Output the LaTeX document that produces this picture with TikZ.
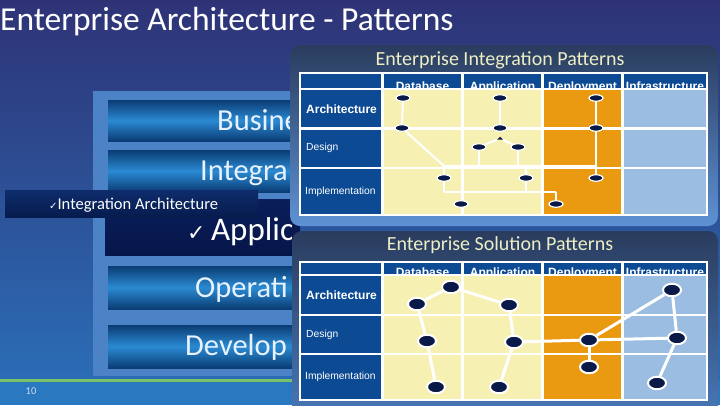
\documentclass[tikz,border=0pt]{standalone}
\usepackage{fontspec}
\setmainfont{Carlito}
\newfontfamily\arialf{Liberation Sans}
\newfontfamily\dejavu{DejaVu Sans}
\usetikzlibrary{shapes.geometric}
\definecolor{bgtop}{HTML}{2E3376}
\definecolor{bgbot}{HTML}{2B6DB6}
\definecolor{bgfoot}{HTML}{2A78C0}
\definecolor{greenl}{HTML}{7CC06A}
\definecolor{framecol}{HTML}{4C82C6}
\definecolor{bardark}{HTML}{0B3C74}
\definecolor{barmid}{HTML}{2A8AD2}
\definecolor{navytop}{HTML}{0A1E5A}
\definecolor{navybot}{HTML}{06164A}
\definecolor{striptop}{HTML}{0E2C6C}
\definecolor{stripbot}{HTML}{061C4E}
\definecolor{paneltop}{HTML}{2A3C5E}
\definecolor{panelbot}{HTML}{5E92D4}
\definecolor{panel2bot}{HTML}{4A7CBE}
\definecolor{ptitle}{HTML}{EEEEC4}
\definecolor{hdrblue}{HTML}{0C4A94}
\definecolor{cellyel}{HTML}{F6F0B2}
\definecolor{cellorg}{HTML}{EA9A10}
\definecolor{cellblu}{HTML}{9CBDE2}
\definecolor{dotnavy}{HTML}{0A1A48}
\definecolor{bartext}{HTML}{E8F2FF}
\definecolor{pagenum}{HTML}{C8DCF0}
\newcommand\eptable[6]{%
  \fill[hdrblue] (300,#1) rectangle (707,#2);
  \fill[hdrblue] (300,#2) rectangle (382.5,#5);
  \fill[cellyel] (382.5,#2) rectangle (542.5,#5);
  \fill[cellorg] (542.5,#2) rectangle (622.5,#5);
  \fill[cellblu] (622.5,#2) rectangle (707,#5);
  \begin{scope}
    \clip (300,#1) rectangle (707,#2);
    \node[hdrtext] (#6db) at (422.5,#2+1.5) {Database};
    \node[hdrtext] (#6ap) at (502.5,#2+1.5) {Application};
    \node[hdrtext] (#6dp) at (582.5,#2+1.5) {Deployment};
    \node[hdrtext] (#6in) at (665,#2+1.5) {Infrastructure};
  \end{scope}
  \draw[gridline] (300,#1) rectangle (707,#5);
  \draw[gridline] (300,#2) -- (707,#2);
  \draw[gridline] (300,#3) -- (707,#3);
  \draw[gridline] (300,#4) -- (707,#4);
  \draw[gridline] (382.5,#1) -- (382.5,#5);
  \draw[gridline] (462.5,#1) -- (462.5,#5);
  \draw[gridline] (542.5,#1) -- (542.5,#5);
  \draw[gridline] (622.5,#1) -- (622.5,#5);
  \node[rowbig] (#6ra) at (306,{(#2+#3)/2}) {Architecture};
  \node[rowsmall] (#6rd) at (306,{(#3+#4)/2}) {Design};
  \node[rowsmall] (#6ri) at (305,{(#4+#5)/2}) {Implementation};
}
\begin{document}
\begin{tikzpicture}[x=1pt,y=-1pt,
  gridline/.style={white,line width=2.4},
  hdrtext/.style={anchor=base,inner sep=0,text=white,font=\arialf\bfseries\fontsize{12}{12}\selectfont},
  rowbig/.style={anchor=west,inner sep=0,text=white,font=\arialf\bfseries\fontsize{12}{12}\selectfont},
  rowsmall/.style={anchor=west,inner sep=0,text=white,font=\arialf\fontsize{10.3}{11}\selectfont},
  bartxt/.style={anchor=base west,inner sep=0,text=bartext,font=\fontsize{30.5}{30}\selectfont},
  barshade/.style={top color=bardark,bottom color=bardark,middle color=barmid},
  sdot/.style={ellipse,draw=white,fill=dotnavy,line width=1.2,minimum width=14,minimum height=6.5,inner sep=0},
  bdot/.style={ellipse,draw=white,fill=dotnavy,line width=2,minimum width=18,minimum height=12.5,inner sep=0},
  tri/.style={isosceles triangle,shape border rotate=90,fill=dotnavy,minimum width=4,minimum height=3,inner sep=0,isosceles triangle apex angle=90},
  sedge/.style={white,line width=2},
  bedge/.style={white,line width=3},
  ptitlestyle/.style={inner sep=0,text=ptitle,font=\fontsize{20}{20}\selectfont,anchor=base}]
\useasboundingbox (0,0) rectangle (720,405);
% slide background
\shade[top color=bgtop,bottom color=bgbot] (0,0) rectangle (720,381);
\fill[bgfoot] (0,381) rectangle (720,405);
\draw[greenl,line width=3] (0,380.5) -- (292,380.5);
\node[anchor=base west,inner sep=0,text=white,font=\fontsize{33.5}{34}\selectfont] (title) at (0,30) {Enterprise Architecture - Patterns};
\node[inner sep=0,text=pagenum,font=\fontsize{10.5}{10}\selectfont] (pnum) at (31,391) {10};
% layer stack
\fill[framecol] (93,91) rectangle (300,376);
\shade[barshade] (108,100) rectangle (300,141);
\shade[barshade] (108,150) rectangle (300,192);
\shade[top color=navytop,bottom color=navybot] (105,199) rectangle (300,255);
\shade[barshade] (108,266) rectangle (300,309);
\shade[barshade] (108,325) rectangle (300,368);
\begin{scope}
\clip (0,0) rectangle (291,405);
\node[bartxt] (tbus) at (217,130) {Busine};
\node[bartxt] (tint) at (200,180) {Integra};
\node[bartxt,text=white,font=\fontsize{33}{33}\selectfont] (tapp) at (187,240) {{\dejavu\fontsize{22}{22}\selectfont ✓}\,Applica};
\node[bartxt] (tops) at (195,297) {Operati};
\node[bartxt] (tdev) at (185,355) {Develop};
\end{scope}
% integration architecture strip
\shade[top color=striptop,bottom color=stripbot] (5,190) rectangle (258,217);
\node[anchor=base west,inner sep=0,text=white,font=\fontsize{16.5}{16}\selectfont] (tstrip) at (49,209) {{\dejavu\fontsize{10}{10}\selectfont ✓}Integration Architecture};
% panels
\shade[rounded corners=10,top color=paneltop,bottom color=panelbot] (290,45) rectangle (718,226);
\shade[rounded corners=10,top color=paneltop,bottom color=panel2bot] (292,231) rectangle (718,430);
\node[ptitlestyle] (t1) at (500,65) {Enterprise Integration Patterns};
\node[ptitlestyle] (t2) at (500,250) {Enterprise Solution Patterns};
% tables
\eptable{73}{89}{128.5}{168}{215}{u}
\eptable{262}{275}{315}{354}{400}{l}
% integration patterns graph
\node[sdot] (a1) at (403,98) {};
\node[sdot] (a2) at (402,128) {};
\node[sdot] (b1) at (500,98) {};
\node[sdot] (b2) at (500,128) {};
\node[sdot] (c1) at (596,98) {};
\node[sdot] (c2) at (596,128) {};
\node[tri] (b3) at (500,138.5) {};
\node[sdot] (b4) at (479,147) {};
\node[sdot] (b5) at (518,147) {};
\node[sdot] (d1) at (444,178) {};
\node[sdot] (d2) at (526,178) {};
\node[sdot] (d3) at (596,178) {};
\node[sdot] (e1) at (461,204) {};
\node[sdot] (e2) at (556,204) {};
\coordinate (barl) at (444,166);
\coordinate (barr) at (596,166);
\coordinate (b4d) at (479,166);
\coordinate (b5d) at (518,166);
\coordinate (d2u) at (526,166);
\coordinate (d2d) at (526,192);
\coordinate (d1d) at (444,192);
\coordinate (e2u) at (556,192);
\draw[sedge] (a1) -- (a2);
\draw[sedge] (b1) -- (b2);
\draw[sedge] (c1) -- (c2);
\draw[sedge] (c2) -- (d3);
\draw[sedge] (a2) -- (barl);
\draw[sedge] (barl) -- (barr);
\draw[sedge] (barl) -- (d1);
\draw[sedge] (d1) -- (d1d);
\draw[sedge] (d1d) -- (e2u);
\draw[sedge] (e2u) -- (e2);
\draw[sedge] (b3) -- (b4);
\draw[sedge] (b3) -- (b5);
\draw[sedge] (b4) -- (b4d);
\draw[sedge] (b5) -- (b5d);
\draw[sedge] (d2u) -- (d2);
\draw[sedge] (d2) -- (d2d);
% solution patterns graph
\node[bdot] (p1) at (451,287) {};
\node[bdot] (p2) at (417,304) {};
\node[bdot] (p3) at (509,305) {};
\node[bdot] (p4) at (427,341) {};
\node[bdot] (p5) at (514,342) {};
\node[bdot] (p6) at (589,340) {};
\node[bdot] (p7) at (672,290) {};
\node[bdot] (p8) at (677,338) {};
\node[bdot] (p9) at (589,367) {};
\node[bdot] (p10) at (436,387) {};
\node[bdot] (p11) at (499,387) {};
\node[bdot] (p12) at (657,383) {};
\draw[bedge] (p2) -- (p1);
\draw[bedge] (p1) -- (p3);
\draw[bedge] (p2) -- (p4);
\draw[bedge] (p4) -- (p10);
\draw[bedge] (p3) -- (p5);
\draw[bedge] (p5) -- (p11);
\draw[bedge] (p5) -- (p6);
\draw[bedge] (p6) -- (p7);
\draw[bedge] (p6) -- (p8);
\draw[bedge] (p7) -- (p8);
\draw[bedge] (p6) -- (p9);
\draw[bedge] (p8) -- (p12);
\end{tikzpicture}
\end{document}
